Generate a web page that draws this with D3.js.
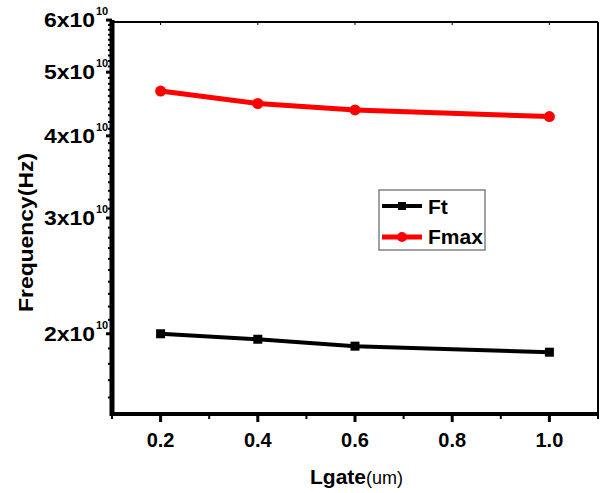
<!DOCTYPE html>
<html>
<head>
<meta charset="utf-8">
<script src="https://cdn.jsdelivr.net/npm/d3@7"></script>
<style>
  body { margin: 0; background: #fff; }
  svg { display: block; font-family: Arial, "Liberation Sans", sans-serif; }
</style>
</head>
<body>
<svg id="chart" width="600" height="493"></svg>
<script>
// data
var lgate = [0.2, 0.4, 0.6, 1.0];
var ft = [2.0e10, 1.962e10, 1.915e10, 1.875e10];
var fmax = [4.68e10, 4.48e10, 4.38e10, 4.28e10];
var yTicks = [2, 3, 4, 5, 6];           // x10^10
var xTicks = [0.2, 0.4, 0.6, 0.8, 1.0];
var xMinor = [0.1, 0.3, 0.5, 0.7, 0.9, 1.1];

var pLeft = 112, pRight = 598, pTop = 22, pBottom = 414;

var svg = d3.select("#chart");

var x = d3.scaleLinear().domain([0.1, 1.1]).range([pLeft, pRight]);
var y = d3.scaleLog().domain([1.51e10, 5.96e10]).range([pBottom, pTop]);

// frame: thin top/right
svg.append("line").attr("x1", pLeft).attr("x2", pRight).attr("y1", pTop).attr("y2", pTop)
  .attr("stroke", "#000").attr("stroke-width", 2);
svg.append("line").attr("x1", pRight).attr("x2", pRight).attr("y1", pTop).attr("y2", pBottom)
  .attr("stroke", "#000").attr("stroke-width", 2);

// top ticks (inward, small)
svg.selectAll(".ttick").data(xTicks).enter().append("line")
  .attr("x1", function(d) { return x(d); }).attr("x2", function(d) { return x(d); })
  .attr("y1", pTop).attr("y2", pTop + 3)
  .attr("stroke", "#000").attr("stroke-width", 1);

// y minor ticks every 1e9
var yMinor = d3.range(16, 60).map(function(d) { return d * 1e9; })
  .filter(function(d) { return d % 1e10 !== 0; });
svg.selectAll(".ymin").data(yMinor).enter().append("line")
  .attr("x1", pLeft - 4).attr("x2", pLeft)
  .attr("y1", function(d) { return y(d); }).attr("y2", function(d) { return y(d); })
  .attr("stroke", "#000").attr("stroke-width", 2);

// y major ticks
svg.selectAll(".ymaj").data(yTicks).enter().append("line")
  .attr("x1", pLeft - 6).attr("x2", pLeft)
  .attr("y1", function(d) { return y(d * 1e10); }).attr("y2", function(d) { return y(d * 1e10); })
  .attr("stroke", "#000").attr("stroke-width", 3);

// x ticks
svg.selectAll(".xmaj").data(xTicks).enter().append("line")
  .attr("x1", function(d) { return x(d); }).attr("x2", function(d) { return x(d); })
  .attr("y1", pBottom).attr("y2", pBottom + 8)
  .attr("stroke", "#000").attr("stroke-width", 3);
svg.selectAll(".xmin").data(xMinor).enter().append("line")
  .attr("x1", function(d) { return x(d); }).attr("x2", function(d) { return x(d); })
  .attr("y1", pBottom).attr("y2", pBottom + 5)
  .attr("stroke", "#000").attr("stroke-width", 2);

// thick left/bottom axes
svg.append("line").attr("x1", pLeft).attr("x2", pLeft).attr("y1", pTop - 2).attr("y2", pBottom + 2)
  .attr("stroke", "#000").attr("stroke-width", 5);
svg.append("line").attr("x1", pLeft - 2).attr("x2", pRight + 1).attr("y1", pBottom).attr("y2", pBottom)
  .attr("stroke", "#000").attr("stroke-width", 4);

// y tick labels  Nx10^10
svg.selectAll(".ylab").data(yTicks).enter().append("text")
  .attr("x", 44)
  .attr("y", function(d) { return y(d * 1e10) + 7; })
  .attr("textLength", 51).attr("lengthAdjust", "spacingAndGlyphs")
  .style("font-weight", "bold").style("font-size", "20px")
  .text(function(d) { return d + "x10"; });
svg.selectAll(".ysup").data(yTicks).enter().append("text")
  .attr("x", 96)
  .attr("y", function(d) { return y(d * 1e10) - 5; })
  .style("font-weight", "bold").style("font-size", "11px")
  .text("10");

// x tick labels
svg.selectAll(".xlab").data(xTicks).enter().append("text")
  .attr("text-anchor", "middle")
  .attr("x", function(d) { return x(d); })
  .attr("y", 447)
  .style("font-weight", "bold").style("font-size", "20px")
  .text(function(d) { return d.toFixed(1); });

// axis titles
svg.append("text")
  .attr("transform", "translate(33,312) rotate(-90)")
  .attr("textLength", 159).attr("lengthAdjust", "spacingAndGlyphs")
  .style("font-weight", "bold").style("font-size", "20px")
  .text("Frequency(Hz)");

var xt = svg.append("text").attr("x", 310).attr("y", 484);
xt.append("tspan").style("font-weight", "bold").style("font-size", "21px").text("Lgate");
xt.append("tspan").style("font-size", "18px").text("(um)");

// series
var line = d3.line()
  .x(function(d) { return x(d[0]); })
  .y(function(d) { return y(d[1]); });

var ftPts = lgate.map(function(v, i) { return [v, ft[i]]; });
var fmPts = lgate.map(function(v, i) { return [v, fmax[i]]; });

svg.append("path").datum(ftPts).attr("d", line)
  .attr("fill", "none").attr("stroke", "#000").attr("stroke-width", 4);
svg.selectAll(".ftm").data(ftPts).enter().append("rect")
  .attr("x", function(d) { return x(d[0]) - 4.5; })
  .attr("y", function(d) { return y(d[1]) - 4.5; })
  .attr("width", 9).attr("height", 9).attr("fill", "#000");

svg.append("path").datum(fmPts).attr("d", line)
  .attr("fill", "none").attr("stroke", "#ff0000").attr("stroke-width", 5);
svg.selectAll(".fmm").data(fmPts).enter().append("circle")
  .attr("cx", function(d) { return x(d[0]); })
  .attr("cy", function(d) { return y(d[1]); })
  .attr("r", 5.5).attr("fill", "#ff0000");

// legend
var lg = svg.append("g");
lg.append("rect").attr("x", 379).attr("y", 190).attr("width", 106).attr("height", 60)
  .attr("fill", "#fff").attr("stroke", "#444").attr("stroke-width", 1);
lg.append("line").attr("x1", 382).attr("x2", 422).attr("y1", 206).attr("y2", 206)
  .attr("stroke", "#000").attr("stroke-width", 4);
lg.append("rect").attr("x", 398).attr("y", 202).attr("width", 8).attr("height", 8).attr("fill", "#000");
lg.append("line").attr("x1", 382).attr("x2", 422).attr("y1", 237).attr("y2", 237)
  .attr("stroke", "#ff0000").attr("stroke-width", 5);
lg.append("circle").attr("cx", 402).attr("cy", 237).attr("r", 5).attr("fill", "#ff0000");
lg.append("text").attr("x", 428).attr("y", 214)
  .style("font-weight", "bold").style("font-size", "21px").text("Ft");
lg.append("text").attr("x", 428).attr("y", 244)
  .style("font-weight", "bold").style("font-size", "21px").text("Fmax");
</script>
</body>
</html>
